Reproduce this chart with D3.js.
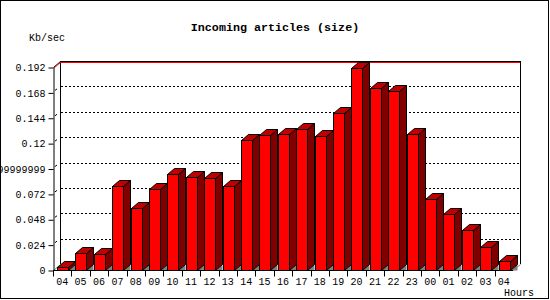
<!DOCTYPE html>
<html>
<head>
<meta charset="utf-8">
<script src="https://cdn.jsdelivr.net/npm/d3@7"></script>
<style>
  body { margin: 0; background: #fff; }
  svg { display: block; }
  text { font-family: "Liberation Mono", "DejaVu Sans Mono", monospace; fill: #000; }
</style>
</head>
<body>
<div id="chart"></div>
<script>
// Data
const hours = ["04", "05", "06", "07", "08", "09", "10", "11", "12", "13", "14", "15",
  "16", "17", "18", "19", "20", "21", "22", "23", "00", "01", "02", "03", "04b"];
const rates = [0.0025, 0.0158, 0.0148, 0.0795, 0.0584, 0.0763, 0.0908, 0.0877, 0.0867,
  0.0795, 0.123, 0.1277, 0.1284, 0.1331, 0.1268, 0.1482, 0.1908, 0.1719, 0.1693,
  0.1284, 0.0669, 0.0527, 0.0376, 0.0215, 0.0082];
const yTicks = [0, 0.024, 0.048, 0.072, 0.096, 0.12, 0.144, 0.168, 0.192];
const yTickLabels = ["0", "0.024", "0.048", "0.072", "0.09599999999999999", "0.12", "0.144", "0.168", "0.192"];

const width = 550;
const height = 300;
const depthX = 7;
const depthY = 6;

const svg = d3.select("#chart")
  .append("svg")
    .attr("width", width)
    .attr("height", height);

// Outer frame
svg.append("rect")
  .attr("x", 0.5).attr("y", 0.5)
  .attr("width", 548).attr("height", 298)
  .attr("fill", "#fff")
  .attr("stroke", "#000");

// Scales
const xScale = d3.scaleBand()
  .domain(hours)
  .range([53, 513]);

const yScale = d3.scaleLinear()
  .domain([0, 0.192])
  .range([270, 67]);

const x0 = xScale.range()[0];
const x1 = xScale.range()[1];
const yBase = yScale(0);
const yTop = yScale(0.192);

// Back wall
const wall = svg.append("g");
wall.append("line")
  .attr("x1", x0 + depthX + 0.5).attr("x2", x0 + depthX + 0.5)
  .attr("y1", yTop - depthY).attr("y2", yBase - depthY)
  .attr("stroke", "#000");
wall.append("line")
  .attr("x1", x1 + depthX + 0.5).attr("x2", x1 + depthX + 0.5)
  .attr("y1", yTop - depthY).attr("y2", yBase - depthY)
  .attr("stroke", "#000");

// Gridlines on the back wall
wall.selectAll(".grid")
  .data(yTicks.filter(t => t > 0 && t < 0.192))
  .join("line")
    .attr("class", "grid")
    .attr("x1", x0 + depthX + 1).attr("x2", x1 + depthX)
    .attr("y1", d => Math.round(yScale(d) - depthY) + 0.5)
    .attr("y2", d => Math.round(yScale(d) - depthY) + 0.5)
    .attr("stroke", "#000")
    .attr("stroke-dasharray", "2,2");

// little connectors from the front axis to the wall
wall.selectAll(".conn")
  .data(yTicks.filter(t => t > 0 && t < 0.192))
  .join("line")
    .attr("class", "conn")
    .attr("x1", x0 + 2).attr("x2", x0 + 4)
    .attr("y1", d => yScale(d) - 2).attr("y2", d => yScale(d) - 3.5)
    .attr("stroke", "#000");

// Top edge
wall.append("line")
  .attr("x1", x0 + depthX).attr("x2", x1 + depthX + 1)
  .attr("y1", yTop - depthY + 0.5).attr("y2", yTop - depthY + 0.5)
  .attr("stroke", "#000");
wall.append("line")
  .attr("x1", x0 + depthX + 1).attr("x2", x1 + depthX)
  .attr("y1", yTop - depthY + 1.5).attr("y2", yTop - depthY + 1.5)
  .attr("stroke", "#f00");
wall.append("line")
  .attr("x1", x0 + 0.5).attr("x2", x0 + depthX + 0.5)
  .attr("y1", yTop + 0.5).attr("y2", yTop - depthY + 0.5)
  .attr("stroke", "#000");
wall.append("line")
  .attr("x1", x0 + 1).attr("x2", x0 + depthX + 1)
  .attr("y1", yTop + 1).attr("y2", yTop - depthY + 1)
  .attr("stroke", "#f00");

// Floor edges
wall.append("line")
  .attr("x1", x0 + 0.5).attr("x2", x0 + depthX + 0.5)
  .attr("y1", yBase + 0.5).attr("y2", yBase - depthY + 0.5)
  .attr("stroke", "#808080");
wall.append("line")
  .attr("x1", x1).attr("x2", x1 + depthX + 0.5)
  .attr("y1", yBase + 0.5).attr("y2", yBase - depthY + 0.5)
  .attr("stroke", "#808080");

// Bars
const band = xScale.bandwidth();
const faceW = Math.round(band * 0.62);
const barData = hours.map((h, i) => ({ hour: h, value: rates[i] }));

const bars = svg.append("g")
  .selectAll("g")
  .data(barData)
  .join("g");

const fx = d => Math.round(xScale(d.hour) + band * 0.22) + 0.5;
const fy = d => Math.round(yScale(d.value)) + 0.5;

// floor shadow
bars.append("path")
  .attr("d", d => {
    const a = fx(d) + faceW;
    return `M${a},${yBase + 0.5}L${a + depthX},${yBase - depthY + 0.5}L${a + depthX},${yBase + 0.5}Z`;
  })
  .attr("fill", "#808080");

// side face
bars.append("path")
  .attr("d", d => {
    const a = fx(d) + faceW;
    return `M${a},${yBase + 0.5}L${a},${fy(d)}L${a + depthX},${fy(d) - depthY}L${a + depthX},${yBase + 0.5 - depthY}Z`;
  })
  .attr("fill", "#800000")
  .attr("stroke", "#000");

// top face
bars.append("path")
  .attr("d", d => {
    const a = fx(d);
    const t = fy(d);
    return `M${a},${t}L${a + depthX},${t - depthY}L${a + faceW + depthX},${t - depthY}L${a + faceW},${t}Z`;
  })
  .attr("fill", "#c00000")
  .attr("stroke", "#000");

// front face
bars.append("rect")
  .attr("x", fx)
  .attr("y", fy)
  .attr("width", faceW)
  .attr("height", d => yBase + 0.5 - fy(d))
  .attr("fill", "#f00")
  .attr("stroke", "#000");

// Left axis
const leftAxis = d3.axisLeft(yScale)
  .tickValues(yTicks)
  .tickFormat((d, i) => yTickLabels[i])
  .tickSize(5)
  .tickSizeOuter(0)
  .tickPadding(3);
const gy = svg.append("g")
  .attr("transform", `translate(${x0 + 0.5},0.5)`)
  .call(leftAxis);
gy.selectAll("text")
  .style("font-size", "10px")
  .style("font-family", "'Liberation Mono', 'DejaVu Sans Mono', monospace");

// Bottom axis
const bottomAxis = d3.axisBottom(xScale)
  .tickFormat(d => d.slice(0, 2))
  .tickSize(0)
  .tickPadding(7);
const gx = svg.append("g")
  .attr("transform", `translate(0,${yBase + 0.5})`)
  .call(bottomAxis);
gx.selectAll("text")
  .style("font-size", "10px")
  .style("font-family", "'Liberation Mono', 'DejaVu Sans Mono', monospace");
gx.select(".domain").attr("d", `M${x0},0H${x1}`);

// band boundary ticks
gx.selectAll(".band-tick")
  .data(hours)
  .join("line")
    .attr("class", "band-tick")
    .attr("x1", d => Math.round(xScale(d)) + 0.5)
    .attr("x2", d => Math.round(xScale(d)) + 0.5)
    .attr("y1", 0).attr("y2", 6)
    .attr("stroke", "#000");

// Titles
svg.append("text")
  .attr("x", 275).attr("y", 31)
  .attr("text-anchor", "middle")
  .style("font-size", "11.7px")
  .style("font-weight", "bold")
  .text("Incoming articles (size)");

svg.append("text")
  .attr("x", 29).attr("y", 41)
  .style("font-size", "10px")
  .text("Kb/sec");

svg.append("text")
  .attr("x", 504).attr("y", 296)
  .style("font-size", "10px")
  .text("Hours");
</script>
</body>
</html>
